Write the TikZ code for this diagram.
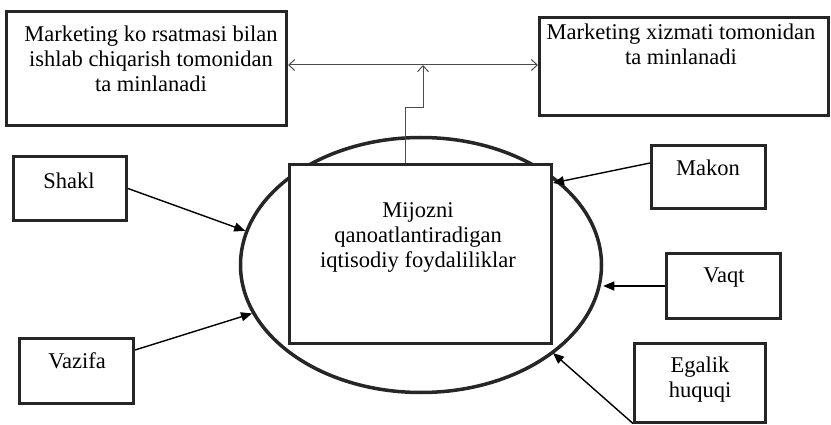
\documentclass[tikz,border=0pt]{standalone}
\usepackage{fontspec}
\setmainfont{Liberation Serif}
\usetikzlibrary{arrows.meta,shapes.geometric}
\tikzset{openv/.tip={Straight Barb[length=6pt,width=11pt]}}
\begin{document}
\begin{tikzpicture}[x=1pt,y=-1pt,
  frame/.style={rectangle, draw=black!85, line width=3pt, inner sep=0pt},
  lbl/.style={inner sep=0pt, align=center, font=\fontsize{22.5}{25}\selectfont},
  feed/.style={line width=1.4pt, -{Triangle[length=11pt,width=9pt]}},
  link/.style={draw=black!70, line width=1pt}
]
\useasboundingbox (0,0) rectangle (831,425);

% central oval with the box on top of it
\node[ellipse, draw=black!85, line width=3.5pt, inner sep=0pt,
      minimum width=361pt, minimum height=255pt] (oval) at (421,265) {};
\node[frame, fill=white, minimum width=262pt, minimum height=179pt] (core) at (420.5,254) {};

% upper boxes
\node[frame, minimum width=280pt, minimum height=114pt] (prod) at (146.5,68.5) {};
\node[frame, minimum width=289pt, minimum height=98pt] (serv) at (684,66.5) {};

% side boxes
\node[frame, minimum width=113pt, minimum height=64pt] (shakl) at (70,188.5) {};
\node[frame, minimum width=114pt, minimum height=65pt] (vazifa) at (76.5,371) {};
\node[frame, minimum width=114pt, minimum height=63pt] (makon) at (708.5,177) {};
\node[frame, minimum width=114pt, minimum height=65pt] (vaqt) at (723.5,286) {};
\node[frame, minimum width=131pt, minimum height=79pt] (egalik) at (700,382.5) {};

% texts
\node[lbl] (prodtxt) at (151,59) {Marketing ko rsatmasi bilan\\ishlab chiqarish tomonidan\\ta minlanadi};
\node[lbl] (servtxt) at (681,44.5) {Marketing xizmati tomonidan\\ta minlanadi};
\node[lbl] (coretxt) at (418,237) {Mijozni\\qanoatlantiradigan\\iqtisodiy foydaliliklar};
\node[lbl] (shakltxt) at (69,181) {Shakl};
\node[lbl] (vazifatxt) at (77,361) {Vazifa};
\node[lbl] (makontxt) at (708,168) {Makon};
\node[lbl] (vaqttxt) at (724,277.5) {Vaqt};
\node[lbl] (egaliktxt) at (700,379.5) {Egalik\\huquqi};

% split of the result between production and the marketing service
\coordinate (hy) at (0,65);
\coordinate (jog) at (423,108);
\draw[link, openv-openv] (prod.east |- hy) -- (serv.west |- hy);
\draw[link, -openv] ([xshift=-15.5pt]core.north) |- (jog) -- (jog |- hy);

% the five utilities feeding the oval
\draw[feed] (shakl.east) -- (oval.169);
\draw[feed] ([yshift=21pt]vazifa.east) -- (oval.196);
\draw[feed] ([yshift=14pt]makon.west) -- ([yshift=-20pt]core.north east);
\draw[feed] (vaqt.west) -- (vaqt.west -| oval.east);
\draw[feed] (egalik.south west) -- ([yshift=-8pt]core.south east);
\end{tikzpicture}
\end{document}
